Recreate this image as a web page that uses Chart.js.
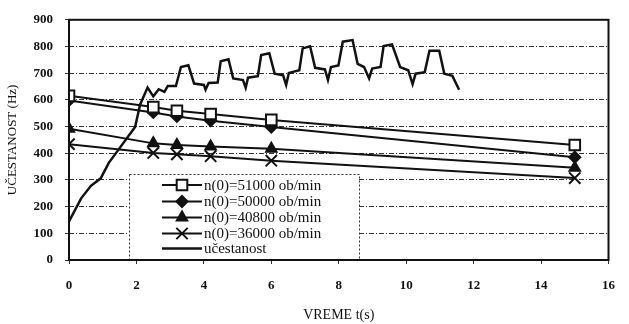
<!DOCTYPE html>
<html>
<head>
<meta charset="utf-8">
<script src="https://cdn.jsdelivr.net/npm/chart.js@4/dist/chart.umd.min.js"></script>
<style>
  html, body { margin: 0; padding: 0; background: #fff; }
  #wrap { width: 629px; height: 324px; }
</style>
</head>
<body>
<div id="wrap"><canvas id="c" width="629" height="324"></canvas></div>
<script>
// Speed decay measurements for four starting speeds (t in s, frequency in Hz)
const sampleTimes = [0, 2.5, 3.2, 4.2, 6, 15];
const n51000 = [615, 573, 559, 547, 525, 431];
const n50000 = [598, 553, 538, 522, 498, 385];
const n40800 = [492, 437, 431, 425, 417, 346];
const n36000 = [434, 401, 396, 389, 372, 307];

// Recorded frequency ("učestanost") during run-up
const ucTime = [0, 0.36, 0.65, 0.94, 1.18, 1.43, 1.96, 2.11, 2.33, 2.5, 2.66, 2.83, 2.93, 3.17, 3.32, 3.54,
  3.71, 4.0, 4.05, 4.14, 4.41, 4.5, 4.73, 4.87, 5.16, 5.24, 5.31, 5.6, 5.7, 5.94, 6.1, 6.35, 6.44, 6.52,
  6.83, 6.93, 7.15, 7.3, 7.59, 7.68, 7.77, 7.99, 8.12, 8.41, 8.56, 8.75, 8.9, 8.99, 9.24, 9.33, 9.58,
  9.82, 10.06, 10.19, 10.28, 10.55, 10.69, 10.98, 11.13, 11.37, 11.57];
const ucHz = [145, 231, 278, 306, 364, 407, 498, 583, 646, 613, 640, 630, 652, 652, 723, 730,
  661, 656, 638, 663, 665, 745, 752, 680, 674, 645, 683, 689, 768, 775, 698, 692, 656, 701,
  711, 793, 801, 720, 714, 674, 723, 729, 818, 824, 735, 723, 680, 717, 723, 802, 808,
  723, 711, 659, 698, 704, 784, 784, 698, 690, 638];

const seriesNames = ['n(0)=51000 ob/min', 'n(0)=50000 ob/min', 'n(0)=40800 ob/min', 'n(0)=36000 ob/min', 'učestanost'];
const yTicks = [0, 100, 200, 300, 400, 500, 600, 700, 800, 900];
const xTicks = [0, 2, 4, 6, 8, 10, 12, 14, 16];

const INK = '#111';
const toPoints = (xs, ys) => xs.map((x, i) => ({ x: x, y: ys[i] }));

function series(label, values, style, radius, fill) {
  return {
    label: label,
    data: toPoints(sampleTimes, values),
    showLine: true,
    borderColor: INK,
    borderWidth: 2,
    pointStyle: style,
    pointRadius: radius,
    pointBorderColor: INK,
    pointBorderWidth: 2,
    pointBackgroundColor: fill,
    tension: 0
  };
}

const datasets = [
  series(seriesNames[0], n51000, 'rect', 7.5, '#fff'),
  series(seriesNames[1], n50000, 'rectRot', 5.5, INK),
  series(seriesNames[2], n40800, 'triangle', 6, INK),
  series(seriesNames[3], n36000, 'crossRot', 8, INK),
  {
    label: seriesNames[4],
    data: toPoints(ucTime, ucHz),
    showLine: true,
    borderColor: INK,
    borderWidth: 2.5,
    pointRadius: 0,
    pointStyle: false,
    tension: 0
  }
];

const serif = "'Liberation Serif', 'DejaVu Serif', serif";

// Boxed legend placed inside the plot, lower left
const innerLegend = {
  id: 'innerLegend',
  afterDatasetsDraw(chart) {
    const ctx = chart.ctx;
    const box = { x: 129, y: 174, w: 230, h: 85 };
    ctx.save();
    ctx.fillStyle = '#fff';
    ctx.fillRect(box.x, box.y, box.w, box.h);
    ctx.strokeStyle = '#333';
    ctx.lineWidth = 1;
    ctx.setLineDash([2, 2]);
    ctx.strokeRect(box.x + 0.5, box.y + 0.5, box.w, box.h);
    ctx.setLineDash([]);
    const rowY = [185, 201.5, 217.5, 233.5, 248.5];
    const lx0 = 162, lx1 = 202, mx = 182;
    chart.data.datasets.forEach((ds, i) => {
      const y = rowY[i];
      ctx.strokeStyle = INK;
      ctx.lineWidth = ds.borderWidth;
      ctx.beginPath();
      ctx.moveTo(lx0, y);
      ctx.lineTo(lx1, y);
      ctx.stroke();
      if (ds.pointStyle && Chart.helpers && Chart.helpers.drawPoint) {
        ctx.fillStyle = ds.pointBackgroundColor;
        ctx.strokeStyle = ds.pointBorderColor;
        ctx.lineWidth = ds.pointBorderWidth;
        Chart.helpers.drawPoint(ctx, {
          pointStyle: ds.pointStyle,
          radius: ds.pointRadius,
          rotation: 0,
          borderWidth: ds.pointBorderWidth
        }, mx, y);
      }
      ctx.fillStyle = INK;
      ctx.font = '15px ' + serif;
      ctx.textAlign = 'left';
      ctx.textBaseline = 'middle';
      ctx.fillText(ds.label, 204, y + 1);
    });
    ctx.restore();
  },
  afterDraw(chart) {
    const a = chart.chartArea;
    const ctx = chart.ctx;
    ctx.save();
    ctx.strokeStyle = INK;
    ctx.lineWidth = 2;
    ctx.strokeRect(a.left, a.top, a.right - a.left, a.bottom - a.top);
    ctx.restore();
  }
};

new Chart(document.getElementById('c'), {
  type: 'scatter',
  data: { datasets: datasets },
  plugins: [innerLegend],
  options: {
    responsive: false,
    animation: false,
    layout: { padding: { top: 13, right: 10, left: 0, bottom: 0 } },
    plugins: {
      legend: { display: false },
      tooltip: { enabled: false }
    },
    scales: {
      x: {
        type: 'linear',
        min: 0,
        max: 16,
        afterFit(s) { s.height = 64; },
        afterBuildTicks(s) { s.ticks = xTicks.map(v => ({ value: v })); },
        border: { display: false },
        grid: {
          drawOnChartArea: false,
          drawTicks: true,
          tickLength: 4,
          color: '#333'
        },
        ticks: {
          padding: 14,
          color: INK,
          font: { family: serif, size: 13, weight: 'bold' }
        },
        title: {
          display: true,
          text: 'VREME t(s)',
          color: INK,
          padding: { top: 5, bottom: 0 },
          font: { family: serif, size: 14 }
        }
      },
      y: {
        type: 'linear',
        min: 0,
        max: 900,
        afterFit(s) { s.width = 69; },
        afterBuildTicks(s) { s.ticks = yTicks.map(v => ({ value: v })); },
        // in Chart.js v4 the border dash also sets the gridline dash
        border: { display: false, dash: [5, 2, 1, 2] },
        grid: {
          color: '#333',
          lineWidth: 1,
          tickLength: 4,
          tickBorderDash: [],
          drawTicks: true
        },
        ticks: {
          padding: 12,
          color: INK,
          font: { family: serif, size: 13, weight: 'bold' }
        },
        title: {
          display: true,
          text: 'UČESTANOST (Hz)',
          color: INK,
          padding: { top: 5, bottom: 0 },
          font: { family: serif, size: 13 }
        }
      }
    }
  }
});
</script>
</body>
</html>
